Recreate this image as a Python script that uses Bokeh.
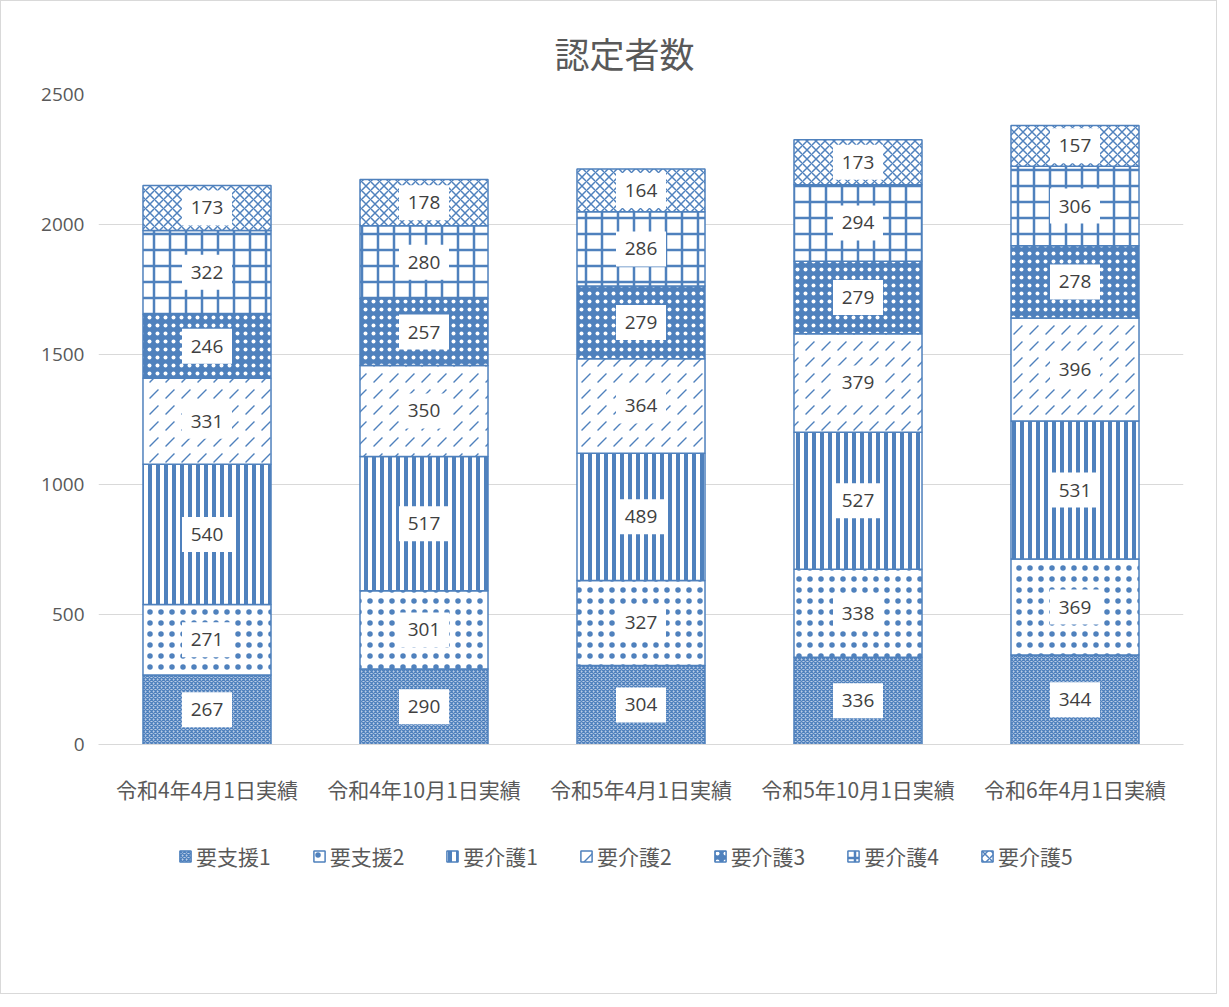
from bokeh.plotting import figure
from bokeh.layouts import column
from bokeh.models import ColumnDataSource, Legend, LegendItem, FactorRange, Range1d
from bokeh.embed import file_html
from bokeh.resources import INLINE
from bokeh.core.properties import value

categories = ["令和4年4月1日実績", "令和4年10月1日実績", "令和5年4月1日実績", "令和5年10月1日実績", "令和6年4月1日実績"]
series_names = ["要支援1", "要支援2", "要介護1", "要介護2", "要介護3", "要介護4", "要介護5"]
youshien1 = [267, 290, 304, 336, 344]
youshien2 = [271, 301, 327, 338, 369]
youkaigo1 = [540, 517, 489, 527, 531]
youkaigo2 = [331, 350, 364, 379, 396]
youkaigo3 = [246, 257, 279, 279, 278]
youkaigo4 = [322, 280, 286, 294, 306]
youkaigo5 = [173, 178, 164, 173, 157]
series_values = [youshien1, youshien2, youkaigo1, youkaigo2, youkaigo3, youkaigo4, youkaigo5]
y_ticks = [0, 500, 1000, 1500, 2000, 2500]

BLUE = "#4f81bd"
styles = [
    dict(fill_color="#b9cce6", hatch_pattern="x", hatch_scale=4, hatch_weight=1.3, hatch_color=BLUE),
    dict(fill_color="white", hatch_pattern=".", hatch_scale=11, hatch_weight=0.5, hatch_color=BLUE),
    dict(fill_color="white", hatch_pattern="|", hatch_scale=8, hatch_weight=4, hatch_color=BLUE),
    dict(fill_color="white", hatch_pattern=",", hatch_scale=16, hatch_weight=1.3, hatch_color=BLUE),
    dict(fill_color=BLUE, hatch_pattern=".", hatch_scale=8, hatch_weight=0.8, hatch_color="white"),
    dict(fill_color="white", hatch_pattern="+", hatch_scale=16, hatch_weight=2.5, hatch_color=BLUE),
    dict(fill_color="white", hatch_pattern="x", hatch_scale=9, hatch_weight=1.5, hatch_color=BLUE),
]

W = 1215
H_MAIN = 805
H_LEG = 187
p = figure(x_range=FactorRange(*categories), y_range=Range1d(0, 2500),
           width=W, height=H_MAIN, output_backend="svg", toolbar_location=None,
           min_border_left=97, min_border_right=33, min_border_top=93,
           min_border_bottom=H_MAIN - 753)
p.outline_line_color = None
p.background_fill_color = "white"
p.border_fill_color = "white"

p.title.text = "認定者数"
p.title.align = "left"
p.title.offset = 456
p.title.text_font = "Noto Sans CJK JP"
p.title.text_font_size = "35px"
p.title.text_font_style = "normal"
p.title.text_color = "#595959"
p.title.standoff = 33

# legend figure (its bar renderers are hidden; only the legend shows)
lf = figure(width=W, height=H_LEG, output_backend="svg", toolbar_location=None,
            x_range=FactorRange(*categories), y_range=Range1d(6000, 7000),
            x_axis_location=None, y_axis_location=None, min_border=0)
lf.grid.visible = False
lf.outline_line_color = None
lf.border_fill_color = "white"
lf.background_fill_color = "white"

bottom = [0] * len(categories)
items = []
label_x, label_y, label_t = [], [], []
for name, vals, st in zip(series_names, series_values, styles):
    top = [b + v for b, v in zip(bottom, vals)]
    src = ColumnDataSource(dict(x=categories, bottom=bottom, top=top))
    p.vbar(x="x", bottom="bottom", top="top", width=0.59, source=src,
           line_color=BLUE, line_width=1.5, **st)
    r = lf.vbar(x="x", bottom="bottom", top="top", width=0.59, source=src,
                line_color=BLUE, line_width=1.5, **st)
    r.visible = False
    items.append(LegendItem(label=name, renderers=[r]))
    for c, b, t, v in zip(categories, bottom, top, vals):
        label_x.append(c)
        label_y.append((b + t) / 2)
        label_t.append(str(v))
    bottom = top

lsrc = ColumnDataSource(dict(x=label_x, y=label_y, t=label_t))
p.rect(x="x", y="y", width=50, height=35, width_units="screen", height_units="screen",
       source=lsrc, fill_color="white", line_color=None)
p.text(x="x", y="y", text="t", source=lsrc, text_align="center", text_baseline="middle",
       text_font=value("Open Sans"), text_font_size="19px", text_color="#404040")

p.xgrid.grid_line_color = None
p.ygrid.grid_line_color = "#d9d9d9"
p.ygrid.grid_line_width = 1
p.yaxis.ticker = y_ticks
p.yaxis.axis_line_color = None
p.yaxis.major_tick_line_color = None
p.yaxis.major_tick_out = 0
p.yaxis.major_tick_in = 0
p.yaxis.minor_tick_line_color = None
p.yaxis.major_label_standoff = 14
p.yaxis.major_label_text_font = "Open Sans"
p.yaxis.major_label_text_font_size = "19px"
p.yaxis.major_label_text_color = "#595959"

p.xaxis.axis_line_color = "#d9d9d9"
p.xaxis.major_tick_line_color = None
p.xaxis.major_tick_out = 0
p.xaxis.major_tick_in = 0
p.xaxis.minor_tick_line_color = None
p.xaxis.major_label_standoff = 29
p.xaxis.major_label_text_font = "Noto Sans CJK JP"
p.xaxis.major_label_text_font_size = "21px"
p.xaxis.major_label_text_color = "#595959"

legend = Legend(items=items, orientation="horizontal", location=(80, 122),
                label_text_font="Noto Sans CJK JP", label_text_font_size="21px",
                label_text_color="#595959", glyph_width=14, glyph_height=14,
                label_standoff=4, spacing=41, border_line_color=None,
                background_fill_alpha=0, margin=0, padding=5,
                click_policy="none", inactive_fill_alpha=0)
lf.add_layout(legend, "center")

layout = column(p, lf, spacing=0)
layout.styles = {"border": "1px solid #d9d9d9"}

open("out.html", "w").write(file_html(layout, INLINE))
